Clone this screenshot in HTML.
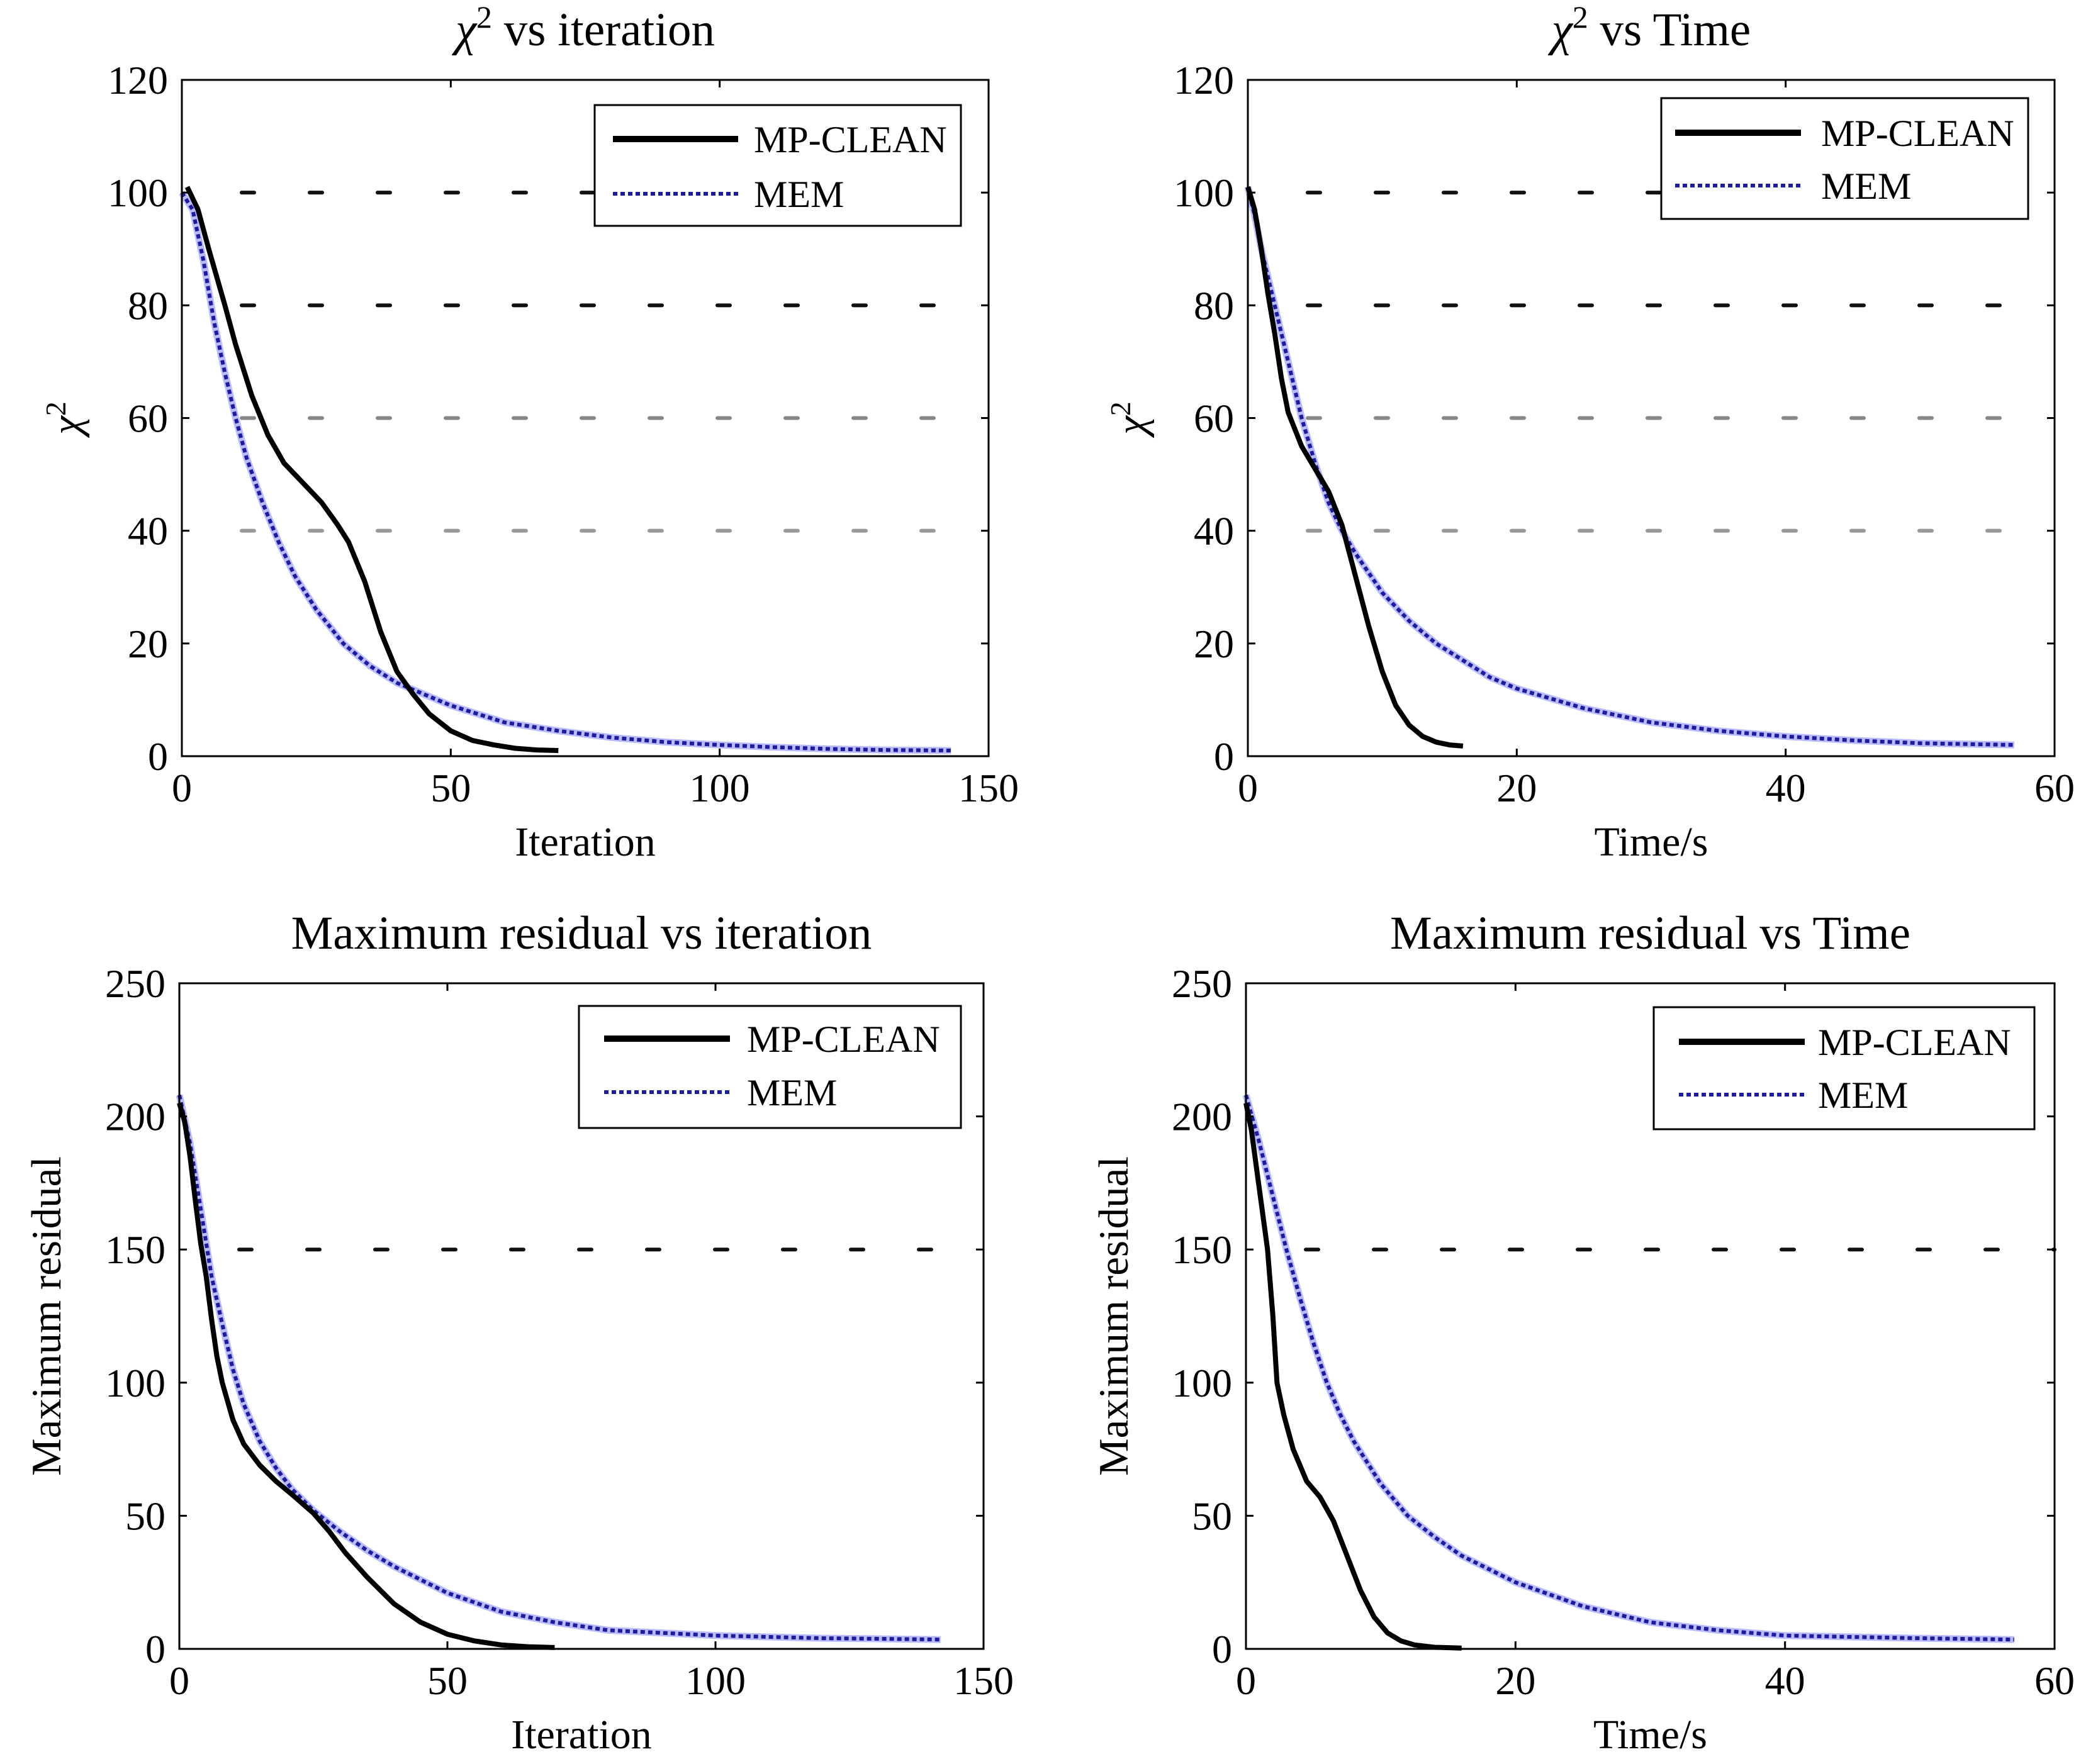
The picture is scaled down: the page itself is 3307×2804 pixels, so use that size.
<!DOCTYPE html>
<html><head><meta charset="utf-8"><style>
html,body{margin:0;padding:0;background:#fff;}
svg{display:block;font-family:"Liberation Serif",serif;}
</style></head><body>
<svg id="chart" width="3307" height="2804" viewBox="0 0 3307 2804" xmlns="http://www.w3.org/2000/svg">
<rect width="3307" height="2804" fill="#fff"/>
</svg>
<script>
// ---- data ----
const p1MpX=[1,3,5,8,10,13,16,19,22,26,29,31,34,37,40,43,46,50,54,58,62,66,70];
const p1MpY=[101,97,90,80,73,64,57,52,49,45,41,38,31,22,15,11,7.5,4.5,2.8,2,1.4,1.1,1];
const p1MemX=[0,2,4,6,8,10,12,15,18,21,25,30,35,40,45,50,60,70,80,90,100,110,120,130,143];
const p1MemY=[100,97,88,77,68,60,53,45,38,32,26,20,16,13,11,9,6,4.5,3.3,2.5,2,1.6,1.3,1.1,1];
const p2MpX=[0,0.5,1,1.5,2,2.5,3,4,5,6,7,8,9,10,11,12,13,14,15,16];
const p2MpY=[101,97,90,82,75,67,61,55,51,47,41,32,23,15,9,5.5,3.5,2.5,2,1.8];
const p2MemX=[0,0.5,1,2,3,4,5,6,7,8,10,12,14,16,18,20,25,30,35,40,45,50,57];
const p2MemY=[101,96,90,80,70,60,52,45,40,36,29,24,20,17,14,12,8.5,6,4.5,3.5,2.8,2.3,2];
const p3MpX=[0,1,2,3,4,5,6,7,8,10,12,15,18,21,25,28,31,35,40,45,50,55,60,65,70];
const p3MpY=[205,198,185,168,152,140,124,110,100,86,77,69,63,58,51,44,36,27,17,10,5.5,3,1.5,0.8,0.5];
const p3MemX=[0,2,4,6,8,10,12,15,18,21,25,30,35,40,45,50,60,70,80,90,100,110,120,130,142];
const p3MemY=[208,190,165,140,122,105,92,78,68,60,52,44,37,31,26,21,14,10,7,6,5,4.5,4,3.8,3.5];
const p4MpX=[0,0.4,0.8,1.2,1.6,2,2.3,2.8,3.5,4.5,5.5,6.5,7.5,8.5,9.5,10.5,11.5,12.5,14,16];
const p4MpY=[205,195,180,165,150,125,100,88,75,63,57,48,35,22,12,6,3,1.5,0.6,0.3];
const p4MemX=[0,1,2,3,4,5,6,7,8,10,12,14,16,18,20,25,30,35,40,45,50,57];
const p4MemY=[208,190,170,150,132,115,100,88,78,62,50,42,35,30,25,16,10,7,5,4.5,4,3.5];
const xTicksIter=[0,50,100,150];
const xTicksTime=[0,20,40,60];
const yTicksChi=[0,20,40,60,80,100,120];
const yTicksRes=[0,50,100,150,200,250];
const gridChi=[100,80,60,40];
const gridChiColor=["#111","#111","#888","#999"];
const gridRes=[150];
const gridResColor=["#111"];

const NS="http://www.w3.org/2000/svg";
const svg=document.getElementById('chart');
function mk(tag,attrs,parent){const e=document.createElementNS(NS,tag);for(const k in attrs)e.setAttribute(k,attrs[k]);(parent||svg).appendChild(e);return e;}

function panel(o){
  const g=mk('g',{});
  
  
  const sx=v=>o.x0+(v-o.xmin)/(o.xmax-o.xmin)*(o.x1-o.x0);
  const sy=v=>o.y1-(v-o.ymin)/(o.ymax-o.ymin)*(o.y1-o.y0);
  o.grid.forEach((gv,i)=>{
    const l=mk('line',{x1:o.x0+95,x2:o.x1,y1:sy(gv),y2:sy(gv),stroke:o.gridColor[i],'stroke-width':6,'stroke-dasharray':'20 88','stroke-linecap':'round'},g);
    
    
  });
  const path=(xs,ys)=>xs.map((x,i)=>(i?'L':'M')+sx(x).toFixed(1)+' '+sy(ys[i]).toFixed(1)).join(' ');
  const mem2=mk('path',{d:path(o.memX,o.memY),fill:'none',stroke:'#3a3aff','stroke-width':11,'stroke-opacity':0.35,'stroke-linejoin':'round'},g);
  
  
  const mem=mk('path',{d:path(o.memX,o.memY),fill:'none',stroke:'#1c1c9c','stroke-width':6,'stroke-dasharray':'7 5','stroke-linejoin':'round'},g);
  
  
  const mp=mk('path',{d:path(o.mpX,o.mpY),fill:'none',stroke:'#000','stroke-width':8,'stroke-linejoin':'round'},g);
  
  
  const b=mk('rect',{x:o.x0,y:o.y0,width:o.x1-o.x0,height:o.y1-o.y0,fill:'none',stroke:'#000','stroke-width':3},g);
  
  
  o.xticks.forEach(t=>{
    mk('line',{x1:sx(t),x2:sx(t),y1:o.y1,y2:o.y1-12,stroke:'#000','stroke-width':3},g);
    mk('line',{x1:sx(t),x2:sx(t),y1:o.y0,y2:o.y0+12,stroke:'#000','stroke-width':3},g);
    const tx=mk('text',{x:sx(t),y:o.y1+72,'font-size':64,'text-anchor':'middle'},g);
    tx.textContent=t;
    
    
  });
  o.yticks.forEach(t=>{
    mk('line',{x1:o.x0,x2:o.x0+12,y1:sy(t),y2:sy(t),stroke:'#000','stroke-width':3},g);
    mk('line',{x1:o.x1,x2:o.x1-12,y1:sy(t),y2:sy(t),stroke:'#000','stroke-width':3},g);
    const tx=mk('text',{x:o.x0-22,y:sy(t)+22,'font-size':64,'text-anchor':'end'},g);
    tx.textContent=t;
    
    
  });
  const ti=mk('text',{x:(o.x0+o.x1)/2,y:o.y0-55,'font-size':75,'text-anchor':'middle'},g);
  ti.innerHTML=o.title;
  
  
  const xl=mk('text',{x:(o.x0+o.x1)/2,y:o.y1+158,'font-size':66,'text-anchor':'middle'},g);
  xl.textContent=o.xlabel;
  
  
  const yl=mk('text',{x:0,y:0,'font-size':67,'text-anchor':'middle',transform:'translate('+o.ylx+','+((o.y0+o.y1)/2)+') rotate(-90)'},g);
  yl.innerHTML=o.ylabel;
  
  
  const L=o.leg;
  const lg=mk('g',{},g);
  
  
  mk('rect',{x:L.x,y:L.y,width:L.w,height:L.h,fill:'#fff',stroke:'#000','stroke-width':3},lg);
  mk('line',{x1:L.lx0,x2:L.lx1,y1:L.r1,y2:L.r1,stroke:'#000','stroke-width':10},lg);
  mk('line',{x1:L.lx0,x2:L.lx1,y1:L.r2,y2:L.r2,stroke:'#1c1c9c','stroke-width':6,'stroke-dasharray':'7 5'},lg);
  const t1=mk('text',{x:L.tx,y:L.r1+21,'font-size':60},lg);t1.textContent='MP-CLEAN';
  
  
  const t2=mk('text',{x:L.tx,y:L.r2+21,'font-size':60},lg);t2.textContent='MEM';
  
  
}
const chiT='<tspan font-style="italic">χ</tspan><tspan dy="-28" font-size="50">2</tspan><tspan dy="28"> vs ';
const chiY='<tspan font-style="italic">χ</tspan><tspan dy="-24" font-size="46">2</tspan>';
panel({id:'panel-chi2-iteration',x0:289,x1:1571,y0:127,y1:1202,xmin:0,xmax:150,ymin:0,ymax:120,
  xticks:xTicksIter,yticks:yTicksChi,grid:gridChi,gridColor:gridChiColor,
  mpX:p1MpX,mpY:p1MpY,memX:p1MemX,memY:p1MemY,title:chiT+'iteration</tspan>',xlabel:'Iteration',
  ylabel:chiY,ylx:128,
  leg:{x:945,y:167,w:582,h:192,lx0:974,lx1:1173,tx:1198,r1:221,r2:308}});
panel({id:'panel-chi2-time',x0:1983,x1:3265,y0:127,y1:1202,xmin:0,xmax:60,ymin:0,ymax:120,
  xticks:xTicksTime,yticks:yTicksChi,grid:gridChi,gridColor:gridChiColor,
  mpX:p2MpX,mpY:p2MpY,memX:p2MemX,memY:p2MemY,title:chiT+'Time</tspan>',xlabel:'Time/s',
  ylabel:chiY,ylx:1820,
  leg:{x:2640,y:156,w:583,h:192,lx0:2662,lx1:2862,tx:2894,r1:211,r2:295}});
panel({id:'panel-residual-iteration',x0:285,x1:1563,y0:1563,y1:2621,xmin:0,xmax:150,ymin:0,ymax:250,
  xticks:xTicksIter,yticks:yTicksRes,grid:gridRes,gridColor:gridResColor,
  mpX:p3MpX,mpY:p3MpY,memX:p3MemX,memY:p3MemY,title:'Maximum residual vs iteration',xlabel:'Iteration',
  ylabel:'Maximum residual',ylx:96,
  leg:{x:920,y:1599,w:607,h:194,lx0:960,lx1:1160,tx:1187,r1:1651,r2:1736}});
panel({id:'panel-residual-time',x0:1980,x1:3265,y0:1563,y1:2621,xmin:0,xmax:60,ymin:0,ymax:250,
  xticks:xTicksTime,yticks:yTicksRes,grid:gridRes,gridColor:gridResColor,
  mpX:p4MpX,mpY:p4MpY,memX:p4MemX,memY:p4MemY,title:'Maximum residual vs Time',xlabel:'Time/s',
  ylabel:'Maximum residual',ylx:1792,
  leg:{x:2628,y:1601,w:605,h:194,lx0:2668,lx1:2868,tx:2889,r1:1656,r2:1740}});
</script>
</body></html>
